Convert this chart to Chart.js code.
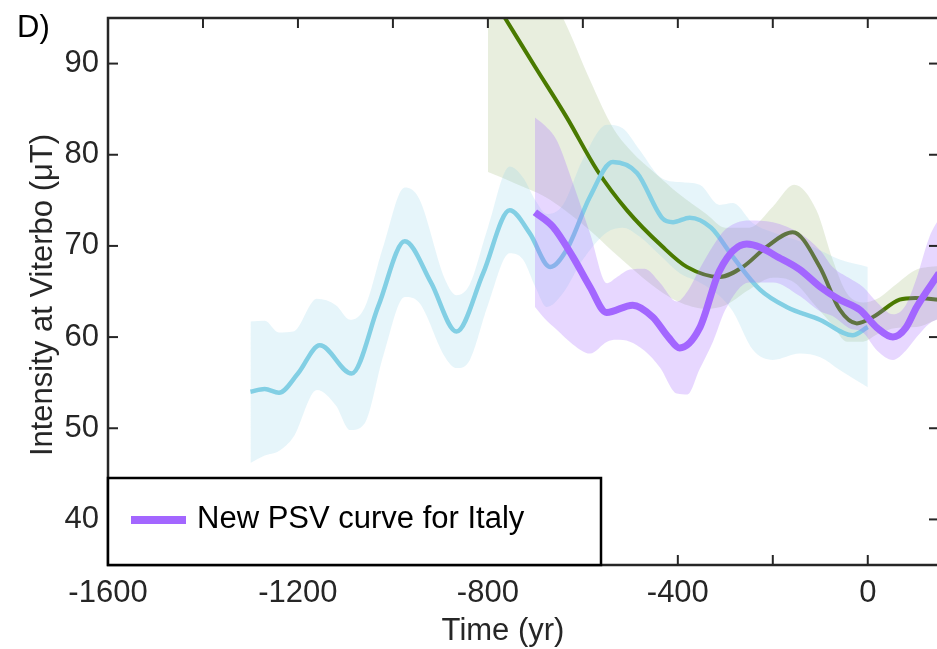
<!DOCTYPE html>
<html>
<head>
<meta charset="utf-8">
<script src="https://cdn.jsdelivr.net/npm/chart.js@4.4.1/dist/chart.umd.min.js"></script>
<style>
  html, body { margin: 0; padding: 0; background: #fff; overflow: hidden; }
  #wrap { position: relative; width: 945px; height: 649px; }
</style>
</head>
<body>
<div id="wrap"><canvas id="chart" width="945" height="649"></canvas></div>
<script>
// ejes
const xTickLabels = [-1600, -1200, -800, -400, 0];
const xTickMarks = [-1600, -1400, -1200, -1000, -800, -600, -400, -200, 0];
const yTickLabels = [40, 50, 60, 70, 80, 90];

// curva azul (claro)
const blueYears  = [-1300, -1270, -1240, -1200, -1154, -1087, -1030, -975, -920, -866, -810, -754, -712, -669, -634, -585, -537, -486, -432, -410, -375, -330, -284, -227, -171, -101, -32, 0];
const blueValues = [54.0, 54.3, 53.9, 56.0, 59.1, 56.0, 63.5, 70.5, 66.0, 60.6, 67.0, 73.9, 71.4, 67.7, 69.6, 75.4, 79.2, 78.0, 73.0, 72.6, 73.1, 72.0, 68.8, 65.2, 63.3, 61.9, 60.2, 61.1];
const blueBandYears = [-1300, -1270, -1240, -1210, -1160, -1120, -1090, -1060, -1020, -975, -945, -890, -866, -838, -800, -754, -726, -700, -676, -642, -600, -549, -516, -480, -438, -396, -354, -312, -284, -242, -200, -143, -100, -59, 0];
const blueUpper = [61.7, 61.8, 60.5, 60.6, 64.2, 63.5, 61.9, 63.2, 70.0, 76.4, 75.2, 66.3, 64.6, 65.8, 72.0, 78.7, 77.5, 75.0, 73.5, 74.5, 79.5, 83.3, 82.9, 80.5, 77.6, 77.0, 76.7, 74.5, 74.7, 72.5, 71.5, 70.5, 69.5, 68.5, 67.7];
const blueLower = [46.2, 47.0, 47.5, 49.0, 54.2, 52.5, 49.8, 50.5, 58.0, 64.4, 63.8, 57.8, 56.6, 57.5, 63.5, 69.2, 68.5, 65.5, 63.3, 64.8, 68.5, 71.5, 72.0, 71.0, 69.0, 67.0, 66.0, 64.5, 62.8, 58.6, 57.5, 58.2, 57.8, 56.4, 54.5];

// curva verde
const greenYears  = [-800, -764, -700, -634, -570, -507, -432, -381, -312, -263, -213, -158, -101, -59, -23, 11, 67, 100, 150];
const greenValues = [98.0, 95.0, 89.6, 84.1, 78.3, 73.9, 69.9, 67.7, 66.6, 67.7, 69.9, 71.5, 67.7, 63.0, 61.5, 62.2, 64.1, 64.3, 64.1];
const greenBandYears = [-800, -740, -680, -640, -585, -537, -500, -444, -400, -340, -300, -250, -200, -155, -108, -74, -44, -10, 20, 60, 103, 150];
const greenUpper = [108, 103, 98.5, 94.8, 88.2, 83.0, 80.5, 77.8, 75.8, 73.5, 72.0, 72.0, 74.3, 76.7, 73.9, 68.5, 64.8, 63.8, 64.2, 65.8, 67.4, 67.8];
const greenLower = [78.1, 76.8, 75.4, 74.0, 71.7, 69.4, 67.7, 65.3, 63.9, 63.1, 63.5, 65.2, 66.5, 66.0, 63.3, 61.3, 59.5, 59.5, 60.3, 61.0, 61.1, 62.0];

// New PSV curve for Italy
const psvYears  = [-701, -663, -621, -585, -550, -495, -453, -420, -396, -354, -312, -255, -179, -143, -100, -59, -17, 20, 53, 80, 103, 150];
const psvValues = [73.7, 72.1, 68.8, 65.5, 62.7, 63.5, 62.2, 60.0, 58.8, 61.0, 67.3, 70.2, 68.5, 67.4, 65.5, 64.1, 63.0, 61.0, 60.0, 61.0, 63.3, 67.0];
const psvBandYears = [-701, -680, -655, -621, -585, -549, -530, -501, -470, -438, -402, -380, -354, -326, -300, -250, -200, -143, -100, -74, -40, -10, 20, 53, 80, 103, 130, 150];
const psvUpper = [84.1, 83.2, 81.6, 76.9, 71.4, 65.9, 66.5, 67.4, 67.5, 66.0, 63.9, 65.0, 67.5, 70.0, 71.8, 72.8, 72.6, 71.4, 69.5, 67.7, 66.5, 65.5, 63.8, 62.5, 63.5, 66.5, 71.0, 73.0];
const psvLower = [63.3, 62.0, 60.8, 59.2, 58.2, 59.5, 59.7, 59.5, 58.5, 56.7, 53.8, 53.7, 56.5, 59.5, 63.0, 66.0, 66.0, 64.5, 62.8, 62.3, 61.0, 60.5, 58.5, 57.5, 58.5, 60.0, 61.5, 62.0];

const FONT = "'Liberation Sans', Arial, Helvetica, sans-serif";
const INK = '#262626';

const pts = (xs, ys) => xs.map((x, i) => ({ x: x, y: ys[i] }));

function lineSet(data, color, width, order) {
    return { data: data, borderColor: color, borderWidth: width, pointRadius: 0, cubicInterpolationMode: 'monotone',
             fill: false, order: order, borderCapStyle: 'butt' };
}
function bandEdge(data, target, color, order) {
    return { data: data, borderWidth: 0, borderColor: 'rgba(0,0,0,0)', pointRadius: 0, cubicInterpolationMode: 'monotone',
             fill: target === null ? false : { target: target }, backgroundColor: color, order: order };
}

// dibuja caja, ticks hacia dentro, leyenda y textos
const decoraciones = {
    id: 'decoraciones',
    afterDraw(chart) {
        const { ctx, chartArea: a, scales: { x, y } } = chart;
        const seg = (x1, y1, x2, y2) => { ctx.beginPath(); ctx.moveTo(x1, y1); ctx.lineTo(x2, y2); ctx.stroke(); };
        ctx.save();
        ctx.strokeStyle = INK;
        ctx.lineWidth = 2;
        xTickMarks.forEach(v => {
            const px = x.getPixelForValue(v);
            seg(px, a.bottom, px, a.bottom - 10);
            seg(px, a.top, px, a.top + 10);
        });
        yTickLabels.forEach(v => {
            const py = y.getPixelForValue(v);
            seg(a.left, py, a.left + 10, py);
            seg(a.right, py, a.right - 10, py);
        });
        ctx.lineWidth = 2.5;
        ctx.strokeRect(a.left, a.top, a.right - a.left, a.bottom - a.top);

        // leyenda
        ctx.fillStyle = '#fff';
        ctx.fillRect(a.left, 478, 601 - a.left, a.bottom - 478);
        ctx.strokeStyle = '#000';
        ctx.lineWidth = 2.5;
        ctx.strokeRect(a.left, 478, 601 - a.left, a.bottom - 478);
        ctx.strokeStyle = '#a366ff';
        ctx.lineWidth = 8;
        seg(131, 520, 186, 520);
        ctx.fillStyle = '#000';
        ctx.font = '31px ' + FONT;
        ctx.textAlign = 'left';
        ctx.textBaseline = 'alphabetic';
        ctx.fillText('New PSV curve for Italy', 197, 528);

        // textos
        ctx.fillText('D)', 17, 37);
        ctx.fillStyle = INK;
        ctx.textAlign = 'center';
        ctx.fillText('Time (yr)', 503, 640);
        ctx.translate(52, 295);
        ctx.rotate(-Math.PI / 2);
        ctx.fillText('Intensity at Viterbo (\u03BCT)', 0, 0);
        ctx.restore();
    }
};

new Chart(document.getElementById('chart').getContext('2d'), {
    type: 'line',
    data: {
        datasets: [
            lineSet(pts(psvYears, psvValues), '#a366ff', 7, 0),
            bandEdge(pts(psvBandYears, psvUpper), 2, 'rgba(163,102,255,0.26)', 1),
            bandEdge(pts(psvBandYears, psvLower), null, 'rgba(0,0,0,0)', 1),
            lineSet(pts(blueYears, blueValues), '#82cfe4', 4.5, 2),
            lineSet(pts(greenYears, greenValues), '#4a7a00', 4, 3),
            bandEdge(pts(blueBandYears, blueUpper), 6, 'rgba(130,207,228,0.2)', 4),
            bandEdge(pts(blueBandYears, blueLower), null, 'rgba(0,0,0,0)', 4),
            bandEdge(pts(greenBandYears, greenUpper), 8, 'rgba(74,122,0,0.13)', 5),
            bandEdge(pts(greenBandYears, greenLower), null, 'rgba(0,0,0,0)', 5)
        ]
    },
    options: {
        responsive: false,
        animation: false,
        devicePixelRatio: 1,
        layout: { padding: { top: 18, right: 6, left: 0, bottom: 0 } },
        plugins: { legend: { display: false }, tooltip: { enabled: false } },
        scales: {
            x: {
                type: 'linear', min: -1600, max: 150,
                grid: { display: false }, border: { display: false },
                ticks: { font: { family: FONT, size: 31 }, color: INK, padding: 2, maxRotation: 0, callback: v => String(v) },
                afterBuildTicks: s => { s.ticks = xTickLabels.map(v => ({ value: v })); },
                afterFit: s => { s.height = 84; s.paddingLeft = 0; s.paddingRight = 0; }
            },
            y: {
                type: 'linear', min: 35, max: 95,
                grid: { display: false }, border: { display: false },
                ticks: { font: { family: FONT, size: 31 }, color: INK, padding: 1, callback: v => String(v) },
                afterBuildTicks: s => { s.ticks = yTickLabels.map(v => ({ value: v })); },
                afterFit: s => { s.width = 108; s.paddingTop = 0; s.paddingBottom = 0; }
            }
        }
    },
    plugins: [decoraciones]
});
</script>
</body>
</html>
